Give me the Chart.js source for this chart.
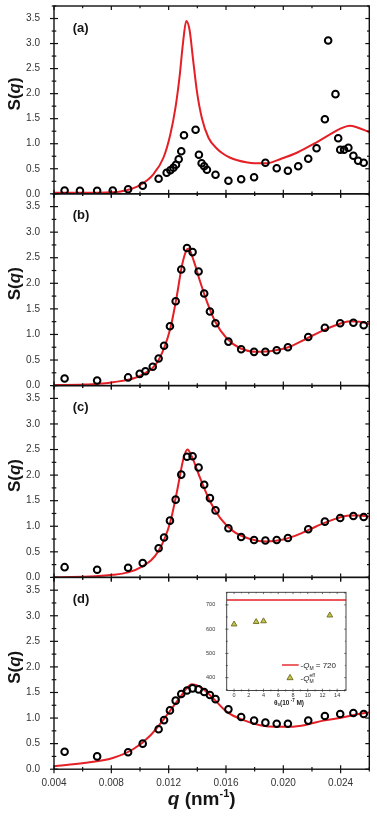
<!DOCTYPE html>
<html><head><meta charset="utf-8">
<script src="https://cdn.jsdelivr.net/npm/chart.js@4/dist/chart.umd.min.js"></script>
<style>
html,body{margin:0;padding:0;background:#fff;}
#wrap{position:relative;width:377px;height:820px;overflow:hidden;background:#fff;}
canvas{position:absolute;left:0;top:0;}
</style></head><body><div id="wrap">
<canvas id="pa" width="377" height="820"></canvas>
<canvas id="pb" width="377" height="820"></canvas>
<canvas id="pc" width="377" height="820"></canvas>
<canvas id="pd" width="377" height="820"></canvas>
<canvas id="pin" width="377" height="820"></canvas>
</div>
<script>
// ---------- data ----------
const qTickValues = [0.004, 0.008, 0.012, 0.016, 0.020, 0.024];
const qMinorTicks = [0.006, 0.010, 0.014, 0.018, 0.022, 0.026];
const sTickValues = [0, 0.5, 1.0, 1.5, 2.0, 2.5, 3.0, 3.5];
const sMinorTicks = [0.25, 0.75, 1.25, 1.75, 2.25, 2.75, 3.25, 3.75];
const panelLabels = ['(a)', '(b)', '(c)', '(d)'];

const qA = [0.00474,0.00581,0.00701,0.0081,0.00917,0.01019,0.0113,0.01186,0.01212,0.01233,0.01251,0.0127,0.01288,0.01307,0.01388,0.01411,0.0143,0.01448,0.01467,0.01527,0.01617,0.01706,0.01796,0.01875,0.01954,0.02032,0.02104,0.02174,0.02232,0.0229,0.02313,0.02364,0.02383,0.02397,0.02424,0.02454,0.02489,0.02522,0.02561];
const sA = [0.065,0.06,0.06,0.065,0.09,0.16,0.30,0.42,0.47,0.52,0.58,0.69,0.85,1.17,1.28,0.78,0.61,0.55,0.48,0.38,0.26,0.29,0.33,0.62,0.51,0.46,0.55,0.70,0.91,1.49,3.06,1.99,1.11,0.88,0.88,0.92,0.76,0.66,0.62];
const qFitA = [0.004,0.006,0.008,0.00864,0.01003,0.01096,0.01165,0.01212,0.01247,0.01277,0.013,0.01323,0.01346,0.0137,0.01398,0.01432,0.01478,0.01537,0.0158,0.0163,0.0168,0.0174,0.018,0.0188,0.01985,0.02102,0.02214,0.02329,0.02398,0.02463,0.02512,0.026];
const sFitA = [0.02,0.02,0.03,0.045,0.18,0.40,0.73,1.19,1.71,2.36,3.01,3.45,3.27,2.69,2.03,1.51,1.12,0.90,0.80,0.72,0.67,0.63,0.61,0.61,0.70,0.83,1.00,1.19,1.30,1.36,1.33,1.23];

const qB = [0.00474,0.00701,0.00917,0.00998,0.01038,0.01089,0.0113,0.01168,0.01209,0.01249,0.01288,0.01328,0.01367,0.01409,0.01448,0.01488,0.01527,0.01617,0.01706,0.01796,0.01875,0.01954,0.02032,0.02174,0.0229,0.02397,0.02489,0.02561];
const sB = [0.14,0.10,0.16,0.23,0.28,0.37,0.53,0.78,1.16,1.65,2.27,2.69,2.61,2.23,1.80,1.45,1.22,0.86,0.71,0.66,0.66,0.69,0.75,0.95,1.13,1.22,1.23,1.18];
const qFitB = [0.004,0.00609,0.0081,0.01014,0.0113,0.01212,0.01258,0.01293,0.01323,0.01339,0.01374,0.0142,0.01467,0.01525,0.01606,0.01699,0.01814,0.0193,0.02046,0.02162,0.02278,0.02394,0.02464,0.02533,0.026];
const sFitB = [0.01,0.02,0.065,0.21,0.50,1.12,1.77,2.35,2.64,2.68,2.45,2.03,1.64,1.25,0.92,0.73,0.66,0.68,0.76,0.92,1.08,1.21,1.26,1.25,1.21];

const qC = [0.00474,0.00701,0.00917,0.01019,0.0113,0.01168,0.01209,0.01249,0.01288,0.01328,0.01367,0.01409,0.01448,0.01488,0.01527,0.01617,0.01706,0.01796,0.01875,0.01954,0.02032,0.02174,0.0229,0.02397,0.02489,0.02561];
const sC = [0.20,0.15,0.19,0.28,0.57,0.78,1.11,1.52,2.01,2.36,2.37,2.15,1.81,1.55,1.31,0.96,0.79,0.73,0.72,0.73,0.77,0.94,1.09,1.16,1.20,1.18];
const qFitC = [0.004,0.0081,0.01014,0.0113,0.01212,0.01258,0.01304,0.01332,0.01362,0.0142,0.0149,0.0156,0.01652,0.01768,0.01884,0.02,0.02116,0.02232,0.02348,0.02464,0.02533,0.026];
const sFitC = [0.0,0.05,0.21,0.52,1.09,1.68,2.33,2.50,2.36,1.94,1.48,1.16,0.90,0.75,0.70,0.74,0.85,1.00,1.13,1.21,1.21,1.19];

const qD = [0.00474,0.00701,0.00917,0.01019,0.0113,0.01168,0.01209,0.01249,0.01288,0.01328,0.01367,0.01409,0.01448,0.01488,0.01527,0.01617,0.01706,0.01796,0.01875,0.01954,0.02032,0.02174,0.0229,0.02397,0.02489,0.02561];
const sD = [0.34,0.25,0.33,0.50,0.78,0.96,1.15,1.34,1.47,1.54,1.58,1.56,1.51,1.45,1.37,1.17,1.02,0.95,0.91,0.89,0.89,0.95,1.04,1.08,1.10,1.08];
const qFitD = [0.004,0.00609,0.0081,0.00957,0.01072,0.01188,0.01281,0.01362,0.0142,0.01513,0.01606,0.01722,0.01838,0.01954,0.02046,0.02162,0.02278,0.02394,0.0251,0.026];
const sFitD = [0.06,0.12,0.22,0.40,0.66,1.06,1.41,1.66,1.61,1.38,1.12,0.96,0.86,0.83,0.83,0.87,0.95,1.00,1.07,1.11];

// inset
const insetConc = [0, 3, 4, 13];
const insetQeff = [620, 630, 633, 657];
const insetQM = 720;
const insetXRange = [-1, 15.2];
const insetYRange = [347, 752];
const insetXTicks = [0, 2, 4, 6, 8, 10, 12, 14];
const insetXMinor = [1, 3, 5, 7, 9, 11, 13, 15];
const insetYTicks = [400, 500, 600, 700];
const insetYMinor = [350, 450, 550, 650, 750];

// ---------- layout / style ----------
const FONT = '"Liberation Sans", Arial, Helvetica, sans-serif';
Chart.defaults.font.family = FONT;
Chart.defaults.color = '#333';
const RED = '#e41f25';
const W = 377, H = 820;
const PLOT_LEFT = 54, PLOT_RIGHT = 369.3;
const PANEL_TOP = [2, 193.8, 385.6, 577.4];
const PANEL_H = 191.8;

function seg(ctx, x1, y1, x2, y2) { ctx.beginPath(); ctx.moveTo(x1, y1); ctx.lineTo(x2, y2); ctx.stroke(); }

const axisDeco = {
  id: 'axisDeco',
  afterDatasetsDraw(chart, args, o) {
    const { ctx, chartArea: a, scales: { x, y } } = chart;
    ctx.save();
    ctx.strokeStyle = o.color;
    ctx.lineWidth = o.tickWidth;
    const xt = (vals, len) => vals.forEach(v => {
      if (v < x.min || v > x.max) return;
      const px = x.getPixelForValue(v);
      seg(ctx, px, a.bottom - len, px, a.bottom + len * o.out);
      seg(ctx, px, a.top, px, a.top + len);
    });
    const yt = (vals, len) => vals.forEach(v => {
      if (v < y.min || v > y.max) return;
      const py = y.getPixelForValue(v);
      seg(ctx, a.left - len * o.out, py, a.left + len, py);
      seg(ctx, a.right - len, py, a.right, py);
    });
    xt(o.xMajor, o.major); xt(o.xMinor, o.minor);
    yt(o.yMajor, o.major); yt(o.yMinor, o.minor);
    ctx.lineWidth = o.frameWidth;
    ctx.strokeRect(a.left, a.top, a.right - a.left, a.bottom - a.top);
    if (o.xLabels) {
      ctx.fillStyle = o.labelColor;
      ctx.font = o.labelFont;
      ctx.textAlign = 'center'; ctx.textBaseline = 'middle';
      o.xLabels.forEach(v => ctx.fillText(String(v), x.getPixelForValue(v), a.bottom + o.labelOffset));
    }
    ctx.restore();
  }
};

function drawRich(ctx, parts, cx, cy, rot) {
  ctx.save();
  ctx.translate(cx, cy); ctx.rotate(rot);
  let w = 0;
  parts.forEach(p => { ctx.font = p.f; p.w = ctx.measureText(p.t).width; w += p.w; });
  let xx = -w / 2;
  ctx.textAlign = 'left'; ctx.textBaseline = 'alphabetic';
  parts.forEach(p => { ctx.font = p.f; ctx.fillText(p.t, xx, p.dy || 0); xx += p.w; });
  ctx.restore();
}

const panelText = {
  id: 'panelText',
  afterDraw(chart, args, o) {
    const { ctx, chartArea: a } = chart;
    ctx.save();
    ctx.fillStyle = '#151515';
    ctx.font = 'bold 13px ' + FONT;
    ctx.textAlign = 'left'; ctx.textBaseline = 'alphabetic';
    ctx.fillText(o.label, a.left + 18.7, a.top + 25.6);
    const yf = 'bold 17px ' + FONT, yi = 'italic bold 17px ' + FONT;
    drawRich(ctx, [{ t: 'S(', f: yf }, { t: 'q', f: yi }, { t: ')', f: yf }], 19.5, (a.top + a.bottom) / 2 - 6, -Math.PI / 2);
    if (o.xTitle) {
      const f = 'bold 19px ' + FONT;
      drawRich(ctx, [
        { t: 'q', f: 'italic bold 19px ' + FONT },
        { t: ' (nm', f },
        { t: '-1', f: 'bold 11px ' + FONT, dy: -8 },
        { t: ')', f }
      ], 201.7, 805, 0);
    }
    ctx.restore();
  }
};

function pts(xs, ys) { return xs.map((v, i) => ({ x: v, y: ys[i] })); }

function makePanel(id, k, mq, ms, fq, fs) {
  const top = PANEL_TOP[k], bottom = top + PANEL_H;
  const isLast = k === 3;
  const xh = isLast ? 30 : 0;
  return new Chart(document.getElementById(id), {
    type: 'scatter',
    data: {
      datasets: [
        { data: pts(fq, fs), showLine: true, borderColor: RED, borderWidth: 2, pointRadius: 0,
          cubicInterpolationMode: 'monotone', order: 1 },
        { data: pts(mq, ms), showLine: false, pointStyle: 'circle', pointRadius: 3.3,
          pointBorderWidth: 2, borderColor: '#000', backgroundColor: 'rgba(0,0,0,0)', order: 0 }
      ]
    },
    options: {
      responsive: false, animation: false, devicePixelRatio: 1,
      events: [],
      layout: { padding: { left: 0, top: top, right: W - PLOT_RIGHT, bottom: H - bottom - xh } },
      plugins: {
        legend: { display: false }, tooltip: { enabled: false },
        axisDeco: { xMajor: qTickValues, xMinor: qMinorTicks, yMajor: sTickValues, yMinor: sMinorTicks,
          major: 4, minor: 2.3, out: 1, tickWidth: 1.2, frameWidth: 1.4, color: '#111' },
        panelText: { label: panelLabels[k], xTitle: isLast }
      },
      scales: {
        x: {
          type: 'linear', min: 0.004, max: 0.026,
          grid: { display: false }, border: { display: false },
          afterBuildTicks: s => { s.ticks = qTickValues.map(v => ({ value: v })); },
          ticks: { display: isLast, padding: 0, autoSkip: false, maxRotation: 0,
            font: { size: 10 }, color: '#333', callback: v => Number(v).toFixed(3) },
          afterFit: s => { s.height = xh; s.paddingLeft = 0; s.paddingRight = 0; }
        },
        y: {
          type: 'linear', min: 0, max: 3.75,
          grid: { display: false }, border: { display: false },
          afterBuildTicks: s => { s.ticks = sTickValues.map(v => ({ value: v })); },
          ticks: { padding: 6, autoSkip: false, font: { size: 10 }, color: '#333',
            callback: v => Number(v).toFixed(1) },
          afterFit: s => { s.width = PLOT_LEFT; s.paddingTop = 0; s.paddingBottom = 0; }
        }
      }
    },
    plugins: [axisDeco, panelText]
  });
}

makePanel('pa', 0, qA, sA, qFitA, sFitA);
makePanel('pb', 1, qB, sB, qFitB, sFitB);
makePanel('pc', 2, qC, sC, qFitC, sFitC);
makePanel('pd', 3, qD, sD, qFitD, sFitD);

// ---------- inset ----------
const IN_LEFT = 226.7, IN_RIGHT = 346, IN_TOP = 592.3, IN_BOTTOM = 690.5;
const insetText = {
  id: 'insetText',
  beforeDatasetsDraw(chart) {
    const { ctx, chartArea: a } = chart;
    ctx.save(); ctx.fillStyle = '#fff';
    ctx.fillRect(a.left, a.top, a.right - a.left, a.bottom - a.top);
    ctx.restore();
  },
  afterDraw(chart) {
    const { ctx } = chart;
    ctx.save();
    ctx.fillStyle = '#222';
    ctx.strokeStyle = RED; ctx.lineWidth = 1.4;
    seg(ctx, 282, 665, 298.7, 665);
    ctx.beginPath();
    const tx = 290, ty = 677.6, r = 3.2;
    ctx.moveTo(tx, ty - r); ctx.lineTo(tx + r * 0.95, ty + r * 0.65); ctx.lineTo(tx - r * 0.95, ty + r * 0.65); ctx.closePath();
    ctx.fillStyle = '#c3c548'; ctx.fill();
    ctx.strokeStyle = '#6b6a1f'; ctx.lineWidth = 0.9; ctx.stroke();
    ctx.fillStyle = '#222';
    ctx.textAlign = 'left'; ctx.textBaseline = 'alphabetic';
    const f8 = '8px ' + FONT, fi8 = 'italic 8px ' + FONT, f5 = '5px ' + FONT;
    const x0 = 300.5;
    const put = (t, f, x, y) => { ctx.font = f; ctx.fillText(t, x, y); return x + ctx.measureText(t).width; };
    let xx = put('-', f8, x0, 668);
    xx = put('Q', fi8, xx, 668);
    xx = put('M', f5, xx, 670);
    put(' = 720', f8, xx, 668);
    xx = put('-', f8, x0, 681);
    xx = put('Q', fi8, xx, 681);
    put('M', f5, xx, 683);
    put('eff', f5, xx, 677);
    const fb = 'bold 6.5px ' + FONT, fbs = 'bold 4.5px ' + FONT;
    drawRich(ctx, [
      { t: 'θ', f: fb }, { t: 's', f: fbs, dy: 1.5 }, { t: '(10', f: fb },
      { t: ' -7', f: fbs, dy: -2.5 }, { t: ' M)', f: fb }
    ], 289, 704.5, 0);
    ctx.restore();
  }
};

new Chart(document.getElementById('pin'), {
  type: 'scatter',
  data: {
    datasets: [
      { data: [{ x: insetXRange[0], y: insetQM }, { x: insetXRange[1], y: insetQM }], showLine: true,
        borderColor: RED, borderWidth: 1.4, pointRadius: 0, order: 1 },
      { data: pts(insetConc, insetQeff), showLine: false, pointStyle: 'triangle', pointRadius: 3.3,
        pointBorderWidth: 0.9, borderColor: '#6b6a1f', backgroundColor: '#c3c548', order: 0 }
    ]
  },
  options: {
    responsive: false, animation: false, devicePixelRatio: 1, events: [],
    layout: { padding: { left: 0, top: IN_TOP, right: W - IN_RIGHT, bottom: H - IN_BOTTOM - 9 } },
    plugins: {
      legend: { display: false }, tooltip: { enabled: false },
      axisDeco: { xMajor: insetXTicks, xMinor: insetXMinor, yMajor: insetYTicks, yMinor: insetYMinor,
        major: 1.8, minor: 1.1, out: 0.8, tickWidth: 0.7, frameWidth: 0.9, color: '#333',
        xLabels: insetXTicks, labelFont: '5.5px ' + FONT, labelColor: '#333', labelOffset: 4.5 }
    },
    scales: {
      x: {
        type: 'linear', min: insetXRange[0], max: insetXRange[1],
        grid: { display: false }, border: { display: false },
        afterBuildTicks: s => { s.ticks = insetXTicks.map(v => ({ value: v })); },
        ticks: { display: false },
        afterFit: s => { s.height = 9; s.paddingLeft = 0; s.paddingRight = 0; }
      },
      y: {
        type: 'linear', min: insetYRange[0], max: insetYRange[1],
        grid: { display: false }, border: { display: false },
        afterBuildTicks: s => { s.ticks = insetYTicks.map(v => ({ value: v })); },
        ticks: { padding: 3.5, autoSkip: false, font: { size: 5.5 }, color: '#333' },
        afterFit: s => { s.width = IN_LEFT; s.paddingTop = 0; s.paddingBottom = 0; }
      }
    }
  },
  plugins: [insetText, axisDeco]
});
</script>
</body></html>
